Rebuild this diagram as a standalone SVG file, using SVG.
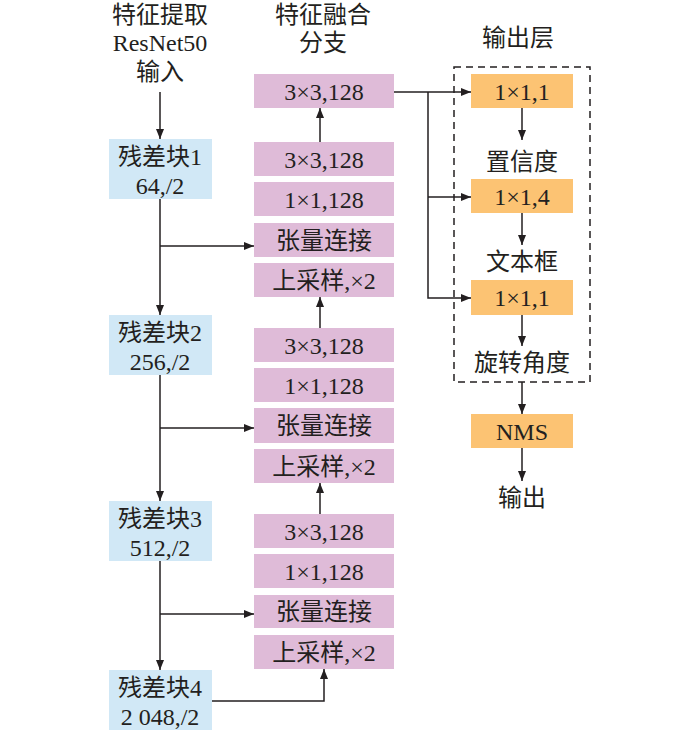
<svg xmlns="http://www.w3.org/2000/svg" width="700" height="734" viewBox="0 0 700 734">
<style>
text{font-family:"Liberation Serif","Noto Sans CJK SC",serif;font-size:24px;fill:#231f20;text-anchor:middle;dominant-baseline:central}
.blue{fill:#d1e8f6}
.pink{fill:#dfbbd8}
.orange{fill:#fcc373}
.ln{fill:none;stroke:#231f20;stroke-width:1.5}
.dash{fill:none;stroke:#231f20;stroke-width:1.5;stroke-dasharray:7,5}
</style>
<defs>
<marker id="ah" viewBox="0 0 10 8" refX="10" refY="4" markerWidth="10" markerHeight="8" markerUnits="userSpaceOnUse" orient="auto">
<path d="M0,0 L10,4 L0,8 z" fill="#231f20"/>
</marker>
</defs>
<rect width="700" height="734" fill="#ffffff"/>

<g id="titles">
<text x="160" y="15">特征提取</text>
<text x="160" y="43">ResNet50</text>
<text x="160" y="72">输入</text>
<text x="323" y="15">特征融合</text>
<text x="323" y="43">分支</text>
<text x="518" y="38">输出层</text>
</g>

<g id="dashed-box"><rect class="dash" x="454" y="67" width="136" height="315"/></g>

<g id="res1"><rect class="blue" x="109" y="139" width="103" height="60"/><text x="160" y="157">残差块1</text><text x="160" y="186">64,/2</text></g>
<g id="res2"><rect class="blue" x="109" y="315" width="103" height="60"/><text x="160" y="333">残差块2</text><text x="160" y="362">256,/2</text></g>
<g id="res3"><rect class="blue" x="109" y="501" width="103" height="60"/><text x="160" y="519">残差块3</text><text x="160" y="548">512,/2</text></g>
<g id="res4"><rect class="blue" x="109" y="670" width="103" height="60"/><text x="160" y="688">残差块4</text><text x="160" y="717">2 048,/2</text></g>

<g id="p-top"><rect class="pink" x="254" y="74" width="140" height="34"/><text x="324" y="92">3×3,128</text></g>
<g id="p1a"><rect class="pink" x="254" y="142" width="140" height="34"/><text x="324" y="160">3×3,128</text></g>
<g id="p1b"><rect class="pink" x="254" y="182" width="140" height="34"/><text x="324" y="200">1×1,128</text></g>
<g id="p1c"><rect class="pink" x="254" y="223" width="140" height="34"/><text x="324" y="241">张量连接</text></g>
<g id="p1d"><rect class="pink" x="254" y="263" width="140" height="34"/><text x="324" y="281">上采样,×2</text></g>
<g id="p2a"><rect class="pink" x="254" y="328" width="140" height="34"/><text x="324" y="346">3×3,128</text></g>
<g id="p2b"><rect class="pink" x="254" y="368" width="140" height="34"/><text x="324" y="386">1×1,128</text></g>
<g id="p2c"><rect class="pink" x="254" y="408" width="140" height="35"/><text x="324" y="426">张量连接</text></g>
<g id="p2d"><rect class="pink" x="254" y="449" width="140" height="34"/><text x="324" y="467">上采样,×2</text></g>
<g id="p3a"><rect class="pink" x="254" y="514" width="140" height="34"/><text x="324" y="532">3×3,128</text></g>
<g id="p3b"><rect class="pink" x="254" y="554" width="140" height="34"/><text x="324" y="572">1×1,128</text></g>
<g id="p3c"><rect class="pink" x="254" y="595" width="140" height="33"/><text x="324" y="612">张量连接</text></g>
<g id="p3d"><rect class="pink" x="254" y="635" width="140" height="34"/><text x="324" y="653">上采样,×2</text></g>

<g id="o1"><rect class="orange" x="471" y="74" width="102" height="34"/><text x="522" y="92">1×1,1</text></g>
<g id="l-conf"><text x="522" y="162">置信度</text></g>
<g id="o2"><rect class="orange" x="471" y="179" width="102" height="34"/><text x="522" y="197">1×1,4</text></g>
<g id="l-box"><text x="522" y="262">文本框</text></g>
<g id="o3"><rect class="orange" x="471" y="280" width="102" height="35"/><text x="522" y="298">1×1,1</text></g>
<g id="l-angle"><text x="522" y="363">旋转角度</text></g>
<g id="nms"><rect class="orange" x="471" y="414" width="102" height="34"/><text x="522" y="432">NMS</text></g>
<g id="l-out"><text x="522" y="498">输出</text></g>

<g id="connectors">
<path class="ln" d="M160,92 V139" marker-end="url(#ah)"/>
<path class="ln" d="M160,199 V315" marker-end="url(#ah)"/>
<path class="ln" d="M160,375 V501" marker-end="url(#ah)"/>
<path class="ln" d="M160,561 V670" marker-end="url(#ah)"/>
<path class="ln" d="M160,246 H254" marker-end="url(#ah)"/>
<path class="ln" d="M160,428 H254" marker-end="url(#ah)"/>
<path class="ln" d="M160,614 H254" marker-end="url(#ah)"/>
<path class="ln" d="M212,701 H324 V669" marker-end="url(#ah)"/>
<path class="ln" d="M320,514 V483" marker-end="url(#ah)"/>
<path class="ln" d="M320,328 V297" marker-end="url(#ah)"/>
<path class="ln" d="M320,142 V108" marker-end="url(#ah)"/>
<path class="ln" d="M394,92 H471" marker-end="url(#ah)"/>
<path class="ln" d="M428,92 V298 H471" marker-end="url(#ah)"/>
<path class="ln" d="M428,197 H471" marker-end="url(#ah)"/>
<path class="ln" d="M522,108 V140" marker-end="url(#ah)"/>
<path class="ln" d="M522,213 V245" marker-end="url(#ah)"/>
<path class="ln" d="M522,315 V346" marker-end="url(#ah)"/>
<path class="ln" d="M522,382 V414" marker-end="url(#ah)"/>
<path class="ln" d="M522,448 V481" marker-end="url(#ah)"/>
</g>
</svg>
